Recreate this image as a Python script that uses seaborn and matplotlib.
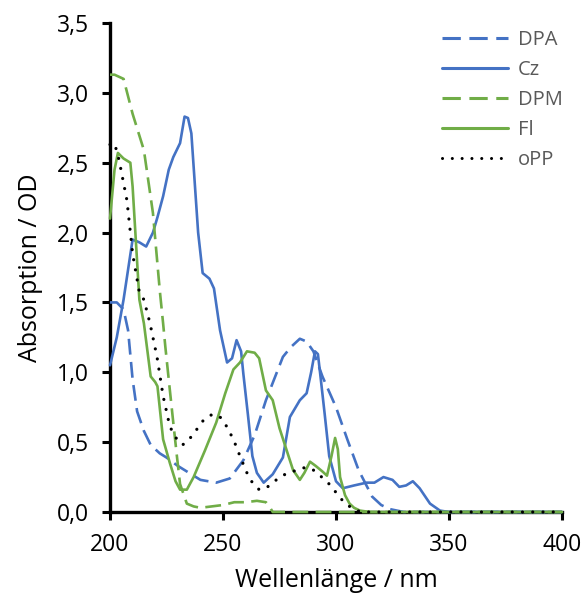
import seaborn as sns
import matplotlib
matplotlib.use("Agg")
import matplotlib.pyplot as plt
from matplotlib.ticker import FuncFormatter
import pandas as pd

# (nm, OD)
dpa_x = [200, 203, 206, 208, 210, 212, 215, 218, 222, 225, 230, 234, 240, 247, 253, 259, 264,
         269, 276.5, 280, 284, 287, 290, 294, 300, 305, 310, 316, 320, 324, 330, 400]
dpa_y = [1.5, 1.5, 1.45, 1.3, 0.95, 0.72, 0.58, 0.48, 0.42, 0.39, 0.33, 0.29, 0.23, 0.21, 0.24, 0.37, 0.55,
         0.8, 1.11, 1.18, 1.24, 1.22, 1.15, 0.97, 0.75, 0.52, 0.3, 0.11, 0.05, 0.02, 0, 0]

cz_x = [200, 203, 206, 210, 213, 216, 219, 221, 223.5, 226, 228, 231, 233, 234.5, 236, 239, 241, 244, 246,
        248.7, 251.8, 254, 256, 258, 259, 261, 263, 265, 268, 272, 276.5, 279.6, 284, 287, 289, 290.7, 292,
        293, 295, 297, 300, 303, 308, 313.5, 317, 321, 325, 328, 331, 334, 337, 341.6, 346, 350, 400]
cz_y = [1.05, 1.25, 1.52, 1.95, 1.93, 1.9, 2.0, 2.11, 2.26, 2.45, 2.54, 2.64, 2.83, 2.82, 2.71, 2.0, 1.71,
        1.67, 1.6, 1.3, 1.07, 1.1, 1.23, 1.15, 0.99, 0.7, 0.4, 0.28, 0.21, 0.27, 0.39, 0.68, 0.8, 0.85, 1.0,
        1.15, 1.13, 0.99, 0.7, 0.4, 0.22, 0.17, 0.19, 0.21, 0.21, 0.25, 0.23, 0.18, 0.19, 0.22, 0.17, 0.06,
        0.01, 0, 0]

dpm_x = [200, 202, 206, 210, 215, 219, 222, 223.5, 224.5, 226.5, 228, 229.6, 231, 234, 237, 240, 245,
         250, 255, 260, 265, 269, 270.5, 272, 400]
dpm_y = [3.13, 3.13, 3.1, 2.85, 2.59, 2.14, 1.59, 1.35, 1.18, 0.87, 0.64, 0.4, 0.2, 0.06, 0.04, 0.03, 0.04,
         0.05, 0.07, 0.07, 0.08, 0.07, 0.04, 0, 0]

fl_x = [200, 202, 203.5, 206, 209, 210, 213, 215, 218, 220, 221, 223.5, 226.5, 229, 231, 234, 237, 242,
        247, 251, 254.6, 257.5, 260.6, 264, 266, 269, 272, 275, 278, 281, 284, 286, 288.5, 291, 294, 296,
        298, 299.6, 300.8, 301.8, 304, 306, 308, 310.6, 315, 400]
fl_y = [2.1, 2.45, 2.57, 2.53, 2.5, 2.33, 1.52, 1.35, 0.97, 0.93, 0.9, 0.52, 0.35, 0.22, 0.16, 0.16, 0.25,
        0.44, 0.64, 0.85, 1.02, 1.07, 1.15, 1.14, 1.1, 0.87, 0.8, 0.6, 0.45, 0.3, 0.23, 0.28, 0.36, 0.33,
        0.29, 0.26, 0.4, 0.53, 0.45, 0.25, 0.12, 0.06, 0.03, 0.01, 0, 0]

opp_x = [200, 202, 204, 207.5, 210, 213, 215, 217.7, 220.8, 223.5, 226.5, 229.6, 232, 234, 237, 241, 244,
         246, 248.7, 251, 254.6, 258, 260.6, 263, 266, 269, 272, 276, 281, 284, 287, 290, 293, 297, 300,
         303, 306, 309, 312, 400]
opp_y = [2.63, 2.64, 2.52, 2.23, 1.85, 1.57, 1.52, 1.35, 1.11, 0.83, 0.61, 0.52, 0.48, 0.5, 0.56, 0.65,
         0.69, 0.7, 0.68, 0.63, 0.52, 0.38, 0.28, 0.21, 0.16, 0.17, 0.21, 0.26, 0.29, 0.31, 0.32, 0.3, 0.26,
         0.2, 0.14, 0.08, 0.04, 0.01, 0, 0]

names = ["DPA", "Cz", "DPM", "Fl", "oPP"]
xs = [dpa_x, cz_x, dpm_x, fl_x, opp_x]
ys = [dpa_y, cz_y, dpm_y, fl_y, opp_y]

blue = "#4472C4"
green = "#70AD47"
colors = [blue, blue, green, green, "black"]
dashes = [(6, 2.8), None, (6, 2.8), None, (0.01, 3.2)]

sns.set_style("ticks")
plt.rcParams["font.family"] = ["Open Sans", "DejaVu Sans"]

fig = plt.figure(figsize=(5.82, 5.98), dpi=100)
ax = fig.add_axes([110 / 582, 86 / 598, 452 / 582, 489 / 598])

for name, x, y, c, d in zip(names, xs, ys, colors, dashes):
    df = pd.DataFrame({"wl": x, "od": y})
    sns.lineplot(data=df, x="wl", y="od", ax=ax, color=c, linewidth=1.9, label=name,
                 estimator=None, sort=False)
    line = ax.get_lines()[-1]
    line.set_solid_joinstyle("round")
    line.set_dash_joinstyle("round")
    if d is not None:
        line.set_dashes(d)
    if name == "oPP":
        line.set_dash_capstyle("round")
        line.set_linewidth(2.3)
    line.set_clip_on(False)
    line.set_zorder(3)

ax.set_xlim(200, 400)
ax.set_ylim(0, 3.5)
ax.set_xticks([200, 250, 300, 350, 400])
ax.set_yticks([0, 0.5, 1.0, 1.5, 2.0, 2.5, 3.0, 3.5])
ax.yaxis.set_major_formatter(FuncFormatter(lambda v, p: f"{v:.1f}".replace(".", ",")))

ax.set_xlabel("Wellenlänge / nm", fontsize=18, color="black", labelpad=8)
ax.set_ylabel("Absorption / OD", fontsize=18, color="black", labelpad=10)
ax.tick_params(axis="both", labelsize=16.5, colors="black", length=6, width=2.2, direction="out", pad=9)

sns.despine(ax=ax)
for s in ["left", "bottom"]:
    ax.spines[s].set_linewidth(2.4)
    ax.spines[s].set_color("black")

leg = ax.legend(loc="upper left", bbox_to_anchor=(442 / 582, 568 / 598), bbox_transform=fig.transFigure,
                frameon=False, fontsize=14.5, labelcolor="#595959", handlelength=3.3,
                handletextpad=0.45, labelspacing=0.5, borderaxespad=0, borderpad=0)
for h in leg.get_lines():
    h.set_linewidth(2.2)

fig.savefig("out.png", dpi=100)
